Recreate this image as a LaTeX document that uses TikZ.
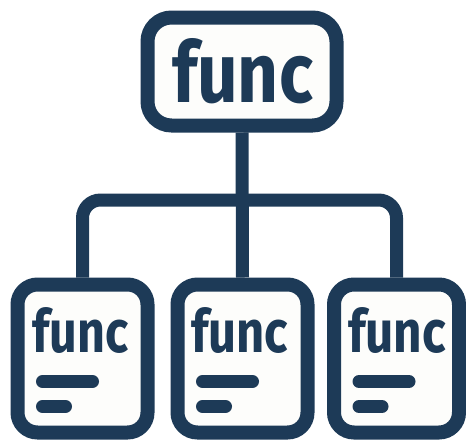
\documentclass[tikz,border=0pt]{standalone}
\usepackage{fontspec}
\setmainfont{Fira Sans}
\usepackage{graphicx}
\usetikzlibrary{backgrounds}
\definecolor{navy}{HTML}{1D3A57}
\definecolor{paper}{HTML}{FDFDFB}
\tikzset{
  box/.style={draw=navy, fill=paper, line width=14pt, rounded corners=20pt, inner sep=0pt, rectangle},
  conn/.style={draw=navy, line width=13pt, rounded corners=18pt},
  txtline/.style={draw=navy, line width=13pt, line cap=round},
  lbl/.style={inner sep=0pt, outer sep=0pt, text=navy, anchor=base west},
}
\begin{document}
\begin{tikzpicture}[x=1pt, y=-1pt]
\useasboundingbox (0,0) rectangle (466,440);
% boxes
\node[box, minimum width=189pt, minimum height=108pt, rounded corners=24pt] (top) at (242,71.5) {};
\node[box, minimum width=130pt, minimum height=148pt] (b1) at (82.5,358.5) {};
\node[box, minimum width=130pt, minimum height=148pt] (b2) at (242.5,358.5) {};
\node[box, minimum width=125pt, minimum height=148pt] (b3) at (396.5,358.5) {};
\coordinate (hb) at (242,200);
% connectors behind boxes
\begin{scope}[on background layer]
\draw[conn] (b1.north) |- (hb) -| (b3.north);
\draw[conn] (top.south) -- (b2.north);
\end{scope}
% texts
\node[lbl] (t0) at (172,102) {\resizebox{141pt}{64pt}{\bfseries func}};
\node[lbl] (t1) at (32.5,352) {\resizebox{96pt}{45pt}{\bfseries func}};
\node[lbl] (t2) at (191,352) {\resizebox{97pt}{45pt}{\bfseries func}};
\node[lbl] (t3) at (348,352) {\resizebox{98pt}{45pt}{\bfseries func}};
% text lines
\foreach \L in {17.5,177.5,334}{
  \draw[txtline] (\L+25,381.5) -- (\L+75,381.5);
  \draw[txtline] (\L+25,406.5) -- (\L+48,406.5);
}
\end{tikzpicture}
\end{document}
